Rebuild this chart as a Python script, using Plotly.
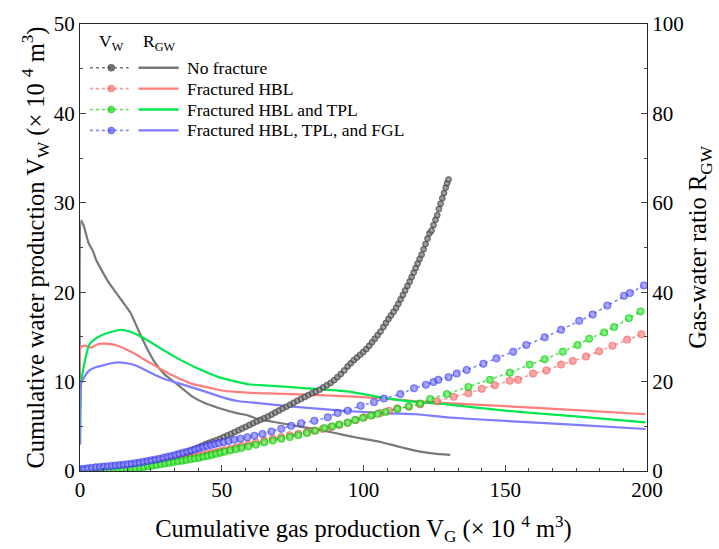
import plotly.graph_objects as go

# ---------------- data ----------------
series_names = ["No fracture", "Fractured HBL", "Fractured HBL and TPL", "Fractured HBL, TPL, and FGL"]

# Cumulative water production Vw (x 10^4 m3) vs cumulative gas production VG (x 10^4 m3)
vg_nofrac = [0, 1.3, 2.6, 3.9, 5.2, 6.5, 7.8, 9.1, 10.4, 11.7, 13, 14.3, 15.6, 16.9, 18.2, 19.5,
             20.8, 22.1, 23.4, 24.7, 26, 27.3, 28.6, 29.9, 31.2, 32.5, 33.8, 35.1, 36.4, 37.7, 39, 40.3,
             41.6, 42.9, 44.2, 45.5, 46.8, 48.1, 49.4, 50.7, 52, 53.3, 54.6, 55.9, 57.2, 58.5, 59.8,
             61.1, 62.4, 63.7, 65, 66.3, 67.6, 68.9, 70.2, 71.5, 72.8, 74.1, 75.4, 76.7, 78, 79.3, 80.6,
             81.9, 83.2, 84.5, 85.8, 87.1, 88.4, 89.6, 90.8, 92, 93.2, 94.4, 95.5, 96.6, 97.7, 98.8, 99.9,
             101, 102, 103, 104, 105, 106, 107, 107.9, 108.8, 109.7, 110.6, 111.5, 112.3, 113.1, 113.9,
             114.7, 115.5, 116.3, 117, 117.7, 118.4, 119.1, 119.8, 120.5, 121.2, 121.9, 122.6, 123.3,
             124, 124.7, 125.4, 126, 126.6, 127.2, 127.8, 128.4, 129, 129.5, 130]
vw_nofrac = [0.10, 0.13, 0.16, 0.19, 0.22, 0.26, 0.29, 0.33, 0.37, 0.42, 0.47, 0.52, 0.58, 0.64, 0.70, 0.77,
             0.84, 0.91, 0.98, 1.06, 1.14, 1.22, 1.30, 1.39, 1.50, 1.61, 1.72, 1.84, 1.96, 2.10, 2.25, 2.42,
             2.60, 2.80, 3.00, 3.15, 3.30, 3.45, 3.60, 3.80, 3.98, 4.17, 4.36, 4.55, 4.75, 4.95, 5.15,
             5.35, 5.55, 5.72, 5.90, 6.10, 6.32, 6.54, 6.76, 6.98, 7.20, 7.42, 7.64, 7.86, 8.07, 8.28, 8.50,
             8.70, 8.88, 9.10, 9.35, 9.60, 9.85, 10.15, 10.5, 10.85, 11.25, 11.7, 12.05, 12.4, 12.7, 13.0, 13.3,
             13.65, 14.0, 14.4, 14.8, 15.2, 15.6, 16.1, 16.55, 17.0, 17.4, 17.8, 18.25, 18.7, 19.2, 19.7,
             20.2, 20.7, 21.2, 21.7, 22.2, 22.7, 23.2, 23.7, 24.2, 24.8, 25.4, 26.0, 26.6,
             26.9, 27.5, 28.1, 28.6, 29.3, 29.9, 30.5, 31.1, 31.7, 32.2, 32.6]

vg_hbl = [0, 1.5, 3, 4.5, 6, 7.5, 9, 10.5, 12, 13.5, 15, 16.5, 18, 19.5, 21, 22.5, 24, 25.5, 27, 28.5,
          30, 31.5, 33, 34.5, 36, 37.5, 39, 40.5, 42, 43.5, 45, 46.5, 48, 49.5, 51, 53, 55, 57, 59.4, 62,
          65, 68, 71, 74, 77, 80, 82.7, 85.6, 88.5, 91.4, 94.4, 97.3, 100.2, 103, 106, 109, 111.9, 116,
          120, 125.9, 131.8, 137, 141.7, 146.3, 151.6, 154.5, 159.8, 164.5, 169.7, 173.8, 178.5, 183.1,
          187.8, 193, 198]
vw_hbl = [0.05, 0.07, 0.09, 0.12, 0.15, 0.18, 0.22, 0.26, 0.30, 0.35, 0.40, 0.45, 0.50, 0.56, 0.62, 0.68,
          0.75, 0.82, 0.89, 0.96, 1.03, 1.10, 1.18, 1.26, 1.34, 1.43, 1.52, 1.61, 1.70, 1.80, 1.90, 2.00,
          2.10, 2.20, 2.32, 2.47, 2.62, 2.80, 3.00, 3.20, 3.40, 3.60, 3.80, 4.00, 4.17, 4.33, 4.50, 4.70,
          4.90, 5.15, 5.40, 5.70, 6.00, 6.25, 6.50, 6.75, 7.00, 7.20, 7.45, 7.80, 8.30, 8.70, 9.20, 9.60,
          10.1, 10.2, 10.9, 11.25, 11.9, 12.3, 12.8, 13.4, 14.0, 14.7, 15.3]

vg_hbl_tpl = [0, 1.5, 3, 4.5, 6, 7.5, 9, 10.5, 12, 13.5, 15, 16.5, 18, 19.5, 21, 22.5, 24, 25.5, 27, 28.5,
              30, 31.5, 33, 34.5, 36, 37.5, 39, 40.5, 42, 43.5, 45, 46.5, 48, 49.5, 51, 53, 55, 57, 59.4, 62,
              65, 68, 71, 74, 77, 80, 83, 86.2, 89, 91.5, 94.4, 97, 99.8, 102.6, 105, 107.8, 112, 116, 120,
              123.5, 129.4, 137, 144.6, 151.6, 158.6, 163.9, 170.3, 175.5, 179.6, 184.9, 188.4, 193.6, 197.7]
vw_hbl_tpl = [0.02, 0.03, 0.04, 0.05, 0.06, 0.08, 0.09, 0.11, 0.14, 0.17, 0.20, 0.24, 0.28, 0.33, 0.39, 0.45,
              0.52, 0.60, 0.68, 0.76, 0.84, 0.92, 1.00, 1.08, 1.16, 1.24, 1.32, 1.40, 1.48, 1.58, 1.68, 1.80,
              1.92, 2.04, 2.16, 2.30, 2.44, 2.58, 2.75, 2.95, 3.20, 3.40, 3.60, 3.80, 4.00, 4.25, 4.52, 4.80,
              5.00, 5.20, 5.40, 5.70, 5.95, 6.20, 6.40, 6.60, 6.95, 7.25, 7.55, 8.05, 8.60, 9.40, 10.2, 11.0,
              11.9, 12.5, 13.35, 14.1, 14.8, 15.5, 16.1, 17.1, 17.85]

vg_all = [0, 1.4, 2.8, 4.2, 5.6, 7, 8.4, 9.8, 11.2, 12.6, 14, 15.4, 16.8, 18.2, 19.6, 21, 22.4, 23.8, 25.2,
          26.6, 28, 29.4, 30.8, 32.2, 33.6, 35, 36.4, 37.8, 39.2, 40.6, 42, 43.4, 44.8, 46.2, 47.6, 49, 50.6,
          52.4, 54.4, 56.6, 59, 61.5, 64.4, 67.5, 71, 74.5, 78, 82.7, 87.4, 90.9, 94.4, 99, 103.7, 107.2, 113,
          117.8, 122, 124.7, 126.4, 130, 132.9, 136.4, 142.3, 146.9, 152.8, 157.4, 163.9, 169.7, 176.1,
          180.8, 186, 191.9, 194, 198.9]
vw_all = [0.20, 0.25, 0.30, 0.36, 0.41, 0.45, 0.49, 0.53, 0.57, 0.62, 0.66, 0.71, 0.76, 0.82, 0.88, 0.95,
          1.03, 1.11, 1.19, 1.28, 1.37, 1.48, 1.58, 1.69, 1.80, 1.92, 2.04, 2.16, 2.29, 2.42, 2.55, 2.68,
          2.80, 2.92, 3.03, 3.12, 3.22, 3.35, 3.50, 3.62, 3.78, 3.95, 4.15, 4.42, 4.72, 5.05, 5.35, 5.62,
          6.00, 6.50, 6.75, 7.30, 7.70, 8.10, 8.60, 9.25, 9.65, 9.95, 10.2, 10.5, 10.9, 11.3, 12.0, 12.6,
          13.35, 14.1, 14.95, 15.8, 16.8, 17.5, 18.5, 19.6, 19.9, 20.75]

# Gas-water ratio RGW vs cumulative gas production
rg_vg_nofrac = [0, 0.4, 1.5, 3, 4.5, 5.7, 8, 10, 12.7, 15, 17.9, 20.8, 23.5, 26.7, 30, 33.5, 36, 39.5,
                44, 48.9, 55, 59.4, 62.9, 70, 77, 82.7, 90, 95, 100, 106, 112, 116, 120, 125, 130.6]
rg_nofrac = [6, 56, 54.5, 51, 49.3, 47.2, 44.5, 42.3, 39.9, 37.9, 35.3, 31.2, 27.6, 24.0, 21.5, 19.8,
             18.5, 16.7, 15.2, 14.1, 13, 12.4, 11.6, 10.8, 10, 9.4, 8.5, 7.8, 7.2, 6.5, 5.5, 4.9, 4.35, 3.9, 3.6]

rg_vg_hbl = [0, 0.3, 2, 4, 6, 8, 11, 13.8, 16.5, 19.7, 22.5, 25.5, 28.5, 31.3, 35, 39.5, 43, 48, 51.2, 55,
             62.9, 75, 94.4, 105, 118.9, 129.4, 150, 175, 199.5]
rg_hbl = [6, 27.8, 28, 27.6, 28.3, 28.5, 28.4, 27.9, 27.1, 26.1, 25, 23.9, 22.8, 21.8, 20.7, 19.5, 19,
          18.3, 17.9, 17.7, 17.4, 17.2, 16.7, 16.3, 15.6, 15.2, 14.5, 13.6, 12.7]

rg_vg_hbl_tpl = [0, 0.4, 1.5, 3.3, 5.5, 8, 11, 14.4, 17.5, 21.4, 25, 29, 33, 37.2, 42, 48.9, 55, 59.4,
                 66.4, 80, 94.4, 105, 118.9, 129.4, 150, 175, 199.5]
rg_hbl_tpl = [6, 19.6, 24, 28.3, 29.6, 30.5, 31.1, 31.6, 31.2, 30.1, 28.8, 27.2, 25.7, 24.3, 22.8, 21,
              20, 19.4, 19.1, 18.5, 17.8, 16.6, 15.4, 14.9, 13.5, 12.2, 10.9]

rg_vg_all = [0, 0.4, 1.5, 3.3, 5.5, 8, 11, 13.8, 16.5, 19.7, 23, 26.7, 30.5, 34.9, 40, 45, 51.2, 56, 62.9,
             75, 94.4, 110, 118.9, 129.4, 150, 175, 199.5]
rg_all = [6, 19.6, 21, 22.5, 23.2, 23.6, 24.1, 24.3, 24.1, 23.6, 22.6, 21.4, 20.4, 19.6, 18.6, 17.6, 16.3,
          15.6, 15.2, 14.4, 13.4, 12.9, 12.7, 12, 11.2, 10.3, 9.4]

x_ticks = [0, 50, 100, 150, 200]
vw_ticks = [0, 10, 20, 30, 40, 50]
rgw_ticks = [0, 20, 40, 60, 80, 100]

# ---------------- styles ----------------
FONT = "Liberation Serif"
line_colors = ["rgb(120,120,120)", "rgb(255,125,125)", "rgb(0,232,80)", "rgb(125,125,255)"]
mk_colors = ["rgba(80,80,80,0.8)", "rgba(255,85,85,0.62)", "rgba(0,215,0,0.68)", "rgba(60,60,255,0.62)"]
mk_centers = ["rgba(180,180,180,0.9)", "rgba(255,190,190,0.9)", "rgba(160,255,160,0.9)", "rgba(190,190,255,0.9)"]
mk_edges = ["rgba(60,60,60,0.85)", "rgba(235,70,70,0.6)", "rgba(0,180,0,0.6)", "rgba(40,40,220,0.6)"]
mk_sizes = [6, 7.5, 7.5, 7.5]

fig = go.Figure()

rg_x = [rg_vg_nofrac, rg_vg_hbl, rg_vg_hbl_tpl, rg_vg_all]
rg_y = [rg_nofrac, rg_hbl, rg_hbl_tpl, rg_all]
vw_x = [vg_nofrac, vg_hbl, vg_hbl_tpl, vg_all]
vw_y = [vw_nofrac, vw_hbl, vw_hbl_tpl, vw_all]

# RGW lines (primary y = right axis)
for i in range(4):
    fig.add_trace(go.Scatter(x=rg_x[i], y=rg_y[i], mode="lines", name=series_names[i] + " R_GW",
                             line=dict(color=line_colors[i], width=2.2, shape="spline", smoothing=0.4),
                             xaxis="x", yaxis="y", showlegend=False))

# Vw markers (y2 = left axis) drawn on top
for i in range(4):
    fig.add_trace(go.Scatter(x=vw_x[i], y=vw_y[i], mode="lines+markers", name=series_names[i] + " V_W",
                             line=dict(color=mk_colors[i], width=1.6, dash="dot"),
                             marker=dict(size=mk_sizes[i], color=mk_colors[i],
                                         line=dict(width=0.6, color=mk_edges[i]),
                                         gradient=dict(type="radial", color=mk_centers[i])),
                             xaxis="x", yaxis="y2", showlegend=False))

# ---------------- legend (manual) ----------------
def px_x(p):
    return (p - 80) / (652 - 80)

def px_y(p):
    return (477 - p) / (477 - 17)

shapes = []
annotations = []
row_y = [62, 83.5, 105, 126.5]
LEG = 17.5
for i in range(4):
    yy = px_y(row_y[i])
    shapes.append(dict(type="line", xref="paper", yref="paper", x0=px_x(90), x1=px_x(129), y0=yy, y1=yy,
                       line=dict(color=mk_colors[i], width=1.6, dash="dot")))
    shapes.append(dict(type="circle", xref="paper", yref="paper", xsizemode="pixel", ysizemode="pixel",
                       xanchor=px_x(111.5), yanchor=yy, x0=-3.5, x1=3.5, y0=-3.5, y1=3.5,
                       fillcolor=mk_colors[i], line=dict(color=mk_edges[i], width=0.6)))
    shapes.append(dict(type="line", xref="paper", yref="paper", x0=px_x(139), x1=px_x(179.5), y0=yy, y1=yy,
                       line=dict(color=line_colors[i], width=2.4)))
    annotations.append(dict(xref="paper", yref="paper", x=px_x(186), y=yy, xanchor="left", yanchor="middle",
                            text=series_names[i], showarrow=False,
                            font=dict(family=FONT, size=LEG, color="black")))
annotations.append(dict(xref="paper", yref="paper", x=px_x(111.5), y=px_y(36), xanchor="center",
                        yanchor="middle", text="V<sub>W</sub>", showarrow=False,
                        font=dict(family=FONT, size=LEG, color="black")))
annotations.append(dict(xref="paper", yref="paper", x=px_x(160), y=px_y(36), xanchor="center",
                        yanchor="middle", text="R<sub>GW</sub>", showarrow=False,
                        font=dict(family=FONT, size=LEG, color="black")))

axis_font = dict(family=FONT, size=21, color="black")
title_font = dict(family=FONT, size=24.5, color="black")

fig.update_layout(
    width=719, height=549,
    margin=dict(l=80, r=67, t=17, b=72),
    paper_bgcolor="white", plot_bgcolor="white",
    showlegend=False,
    font=dict(family=FONT, color="black"),
    xaxis=dict(range=[0, 200], tickvals=x_ticks, ticks="inside", ticklen=6, tickwidth=1.2,
               showline=True, linecolor="rgb(40,40,40)", linewidth=1.3, mirror=True,
               showgrid=False, zeroline=False, tickfont=axis_font,
               minor=dict(ticks="inside", ticklen=3, tickwidth=1, dtick=50 / 6, tick0=0),
               title=dict(text="Cumulative gas production V<sub>G</sub> (× 10 <sup>4</sup> m<sup>3</sup>)",
                          font=title_font, standoff=18)),
    yaxis=dict(range=[0, 100], tickvals=rgw_ticks, side="right", ticks="inside", ticklen=6, tickwidth=1.2,
               showline=True, linecolor="rgb(40,40,40)", linewidth=1.3,
               showgrid=False, zeroline=False, tickfont=axis_font,
               minor=dict(ticks="inside", ticklen=3, tickwidth=1, dtick=10),
               title=dict(text="Gas-water ratio R<sub>GW</sub>", font=title_font, standoff=6)),
    yaxis2=dict(range=[0, 50], tickvals=vw_ticks, side="left", overlaying="y", ticks="inside", ticklen=6,
                tickwidth=1.2, showline=True, linecolor="rgb(40,40,40)", linewidth=1.3,
                showgrid=False, zeroline=False, tickfont=axis_font,
                minor=dict(ticks="inside", ticklen=3, tickwidth=1, dtick=5),
                title=dict(text="Cumulative water production V<sub>W</sub> (× 10 <sup>4</sup> m<sup>3</sup>)",
                           font=title_font, standoff=2)),
    shapes=shapes,
    annotations=annotations,
)

fig.write_html("out.html")
